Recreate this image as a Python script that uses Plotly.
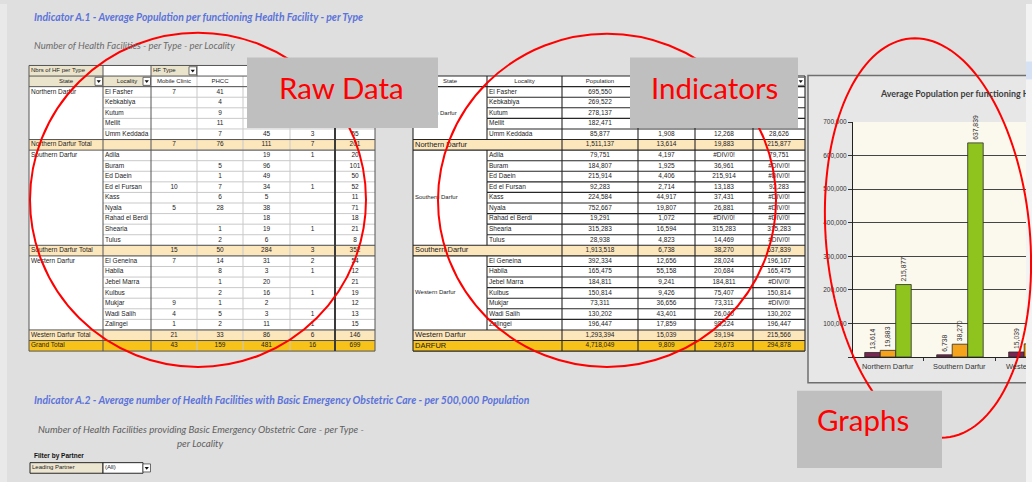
import numpy as np
import plotly.graph_objects as go

W, H = 1032, 482

# ======================= DATA =======================
states = ["Northern Darfur", "Southern Darfur", "Western Darfur"]

# ---- Raw data table: number of health facilities per type ----
raw_row0_labels = ["Nbrs of HF per Type", "HF Type"]
raw_col_headers = ["State", "Locality", "Mobile Clinic", "PHCC", "", "", ""]

north_localities = ["El Fasher", "Kebkabiya", "Kutum", "Mellit", "Umm Keddada"]
south_localities = ["Adila", "Buram", "Ed Daein", "Ed el Fursan", "Kass", "Nyala",
                    "Rahad el Berdi", "Shearia", "Tulus"]
west_localities = ["El Geneina", "Habila", "Jebel Marra", "Kulbus", "Mukjar",
                   "Wadi Salih", "Zalingei"]

north_counts = [[7, 41, None, None, None], [None, 4, None, None, None],
                [None, 9, None, None, None], [None, 11, None, None, None],
                [None, 7, 45, 3, 55]]
north_total_counts = [7, 76, 111, 7, 201]
south_counts = [[None, None, 19, 1, 20], [None, 5, 96, None, 101], [None, 1, 49, None, 50],
                [10, 7, 34, 1, 52], [None, 6, 5, None, 11], [5, 28, 38, None, 71],
                [None, None, 18, None, 18], [None, 1, 19, 1, 21], [None, 2, 6, None, 8]]
south_total_counts = [15, 50, 284, 3, 352]
west_counts = [[7, 14, 31, 2, 54], [None, 8, 3, 1, 12], [None, 1, 20, None, 21],
               [None, 2, 16, 1, 19], [9, 1, 2, None, 12], [4, 5, 3, 1, 13],
               [1, 2, 11, 1, 15]]
west_total_counts = [21, 33, 86, 6, 146]
grand_total_counts = [43, 159, 481, 16, 699]

# ---- Indicators table: average population per functioning HF ----
ind_col_headers = ["State", "Locality", "Population", "", "", ""]
north_population = ["695,550", "269,522", "278,137", "182,471", "85,877"]
north_ind = [["", "", ""], ["", "", ""], ["", "", ""], ["", "", ""],
             ["1,908", "12,268", "28,626"]]
north_total_ind = ["1,511,137", "13,614", "19,883", "215,877"]
south_population = ["79,751", "184,807", "215,914", "92,283", "224,584", "752,667",
                    "19,291", "315,283", "28,938"]
south_ind = [["4,197", "#DIV/0!", "79,751"], ["1,925", "36,961", "#DIV/0!"],
             ["4,406", "215,914", "#DIV/0!"], ["2,714", "13,183", "92,283"],
             ["44,917", "37,431", "#DIV/0!"], ["19,807", "26,881", "#DIV/0!"],
             ["1,072", "#DIV/0!", "#DIV/0!"], ["16,594", "315,283", "315,283"],
             ["4,823", "14,469", "#DIV/0!"]]
south_total_ind = ["1,913,518", "6,738", "38,270", "637,839"]
west_population = ["392,334", "165,475", "184,811", "150,814", "73,311", "130,202", "196,447"]
west_ind = [["12,656", "28,024", "196,167"], ["55,158", "20,684", "165,475"],
            ["9,241", "184,811", "#DIV/0!"], ["9,426", "75,407", "150,814"],
            ["36,656", "73,311", "#DIV/0!"], ["43,401", "26,040", "130,202"],
            ["17,859", "98,224", "196,447"]]
west_total_ind = ["1,293,394", "15,039", "39,194", "215,566"]
darfur_label = "DARFUR"
darfur_total_ind = ["4,718,049", "9,809", "29,673", "294,878"]

# ---- Chart ----
chart_title = "Average Population per functioning Health Facility - per Type"
chart_categories = ["Northern Darfur", "Southern Darfur", "Western Darfur"]
series_names = ["Population per HF (type 3)", "Population per PHCC", "Population per HF (type 4)"]
series_a = [13614, 6738, 15039]
series_b = [19883, 38270, 39194]
series_c = [215877, 637839, 215566]
chart_yticks = [0, 100000, 200000, 300000, 400000, 500000, 600000, 700000]

# ---- Page texts ----
title_a1 = "Indicator A.1 - Average Population per functioning Health Facility - per Type"
sub_a1 = "Number of Health Facilities - per Type - per Locality"
title_a2 = "Indicator A.2 - Average number of Health Facilities with Basic Emergency Obstetric Care - per 500,000 Population"
sub_a2_line1 = "Number of Health Facilities providing Basic Emergency Obstetric Care - per Type -"
sub_a2_line2 = "per Locality"
filter_title = "Filter by Partner"
filter_labels = ["Leading Partner", "(All)"]
callout_labels = ["Raw Data", "Indicators", "Graphs"]

# ======================= STYLE / GEOMETRY =======================
TFONT = "Liberation Sans"
PAGE = "#dfdfdf"
BEIGE_H = "#ebe4cc"
TOTAL_FILL = "#fce6bc"
GRAND_FILL = "#f7c21a"
LIGHT = "#c9c9c9"
DARK = "#555555"
BLACK = "#262626"
TXT = "#1c1c1c"
SCROLL = "#f3f3f3"

RH = 288.0 / 27
RAW_LEFT, RAW_TOP = 29, 62
RAW_COLW = [74, 48, 46, 46, 47, 45, 40]
IND_LEFT, IND_TOP = 413, 62 + RH
IND_COLW = [74, 75, 76, 57, 58, 52]
FIL_LEFT, FIL_TOP = 30, 462.5
FIL_COLW = [73, 40, 8]

fig = go.Figure()
shapes = []
annotations = []
axes_layout = {}
text_groups = {}


def make_table_axes(idx, left, top, colw, nrows):
    pad = 2.0
    wsum = float(sum(colw))
    axes_layout["xaxis%d" % idx] = dict(domain=[(left - pad) / W, (left + wsum + pad) / W],
                                        range=[-pad, wsum + pad], visible=False,
                                        fixedrange=True, anchor="y%d" % idx)
    axes_layout["yaxis%d" % idx] = dict(domain=[1 - (top + nrows * RH + pad) / H, 1 - (top - pad) / H],
                                        range=[nrows + pad / RH, -pad / RH], visible=False,
                                        fixedrange=True, anchor="x%d" % idx)


def srect(ax, x0, x1, y0, y1, fill, lc=None, lw=0):
    shapes.append(dict(type="rect", xref="x%d" % ax, yref="y%d" % ax, x0=x0, x1=x1, y0=y0, y1=y1,
                       fillcolor=fill, line=dict(color=lc or "rgba(0,0,0,0)", width=lw), layer="below"))


def sline(ax, x0, x1, y0, y1, color, width):
    shapes.append(dict(type="line", xref="x%d" % ax, yref="y%d" % ax, x0=x0, x1=x1, y0=y0, y1=y1,
                       line=dict(color=color, width=width), layer="below"))


def dropdown(ax, xr, r):
    srect(ax, xr - 8, xr - 0.5, r + 0.12, r + 0.88, "#ffffff", "#4a4a4a", 0.8)
    xm = xr - 4.25
    shapes.append(dict(type="path", xref="x%d" % ax, yref="y%d" % ax,
                       path="M %.2f,%.3f L %.2f,%.3f L %.2f,%.3f Z" % (xr - 6.4, r + 0.4, xr - 2.1, r + 0.4, xm, r + 0.66),
                       fillcolor="#111111", line=dict(width=0), layer="below"))


def put(ax, x, r, s, pos="middle center", size=6.5, color=TXT):
    if s is None or s == "":
        return
    g = text_groups.setdefault((ax, pos, size, color), ([], [], []))
    g[0].append(x)
    g[1].append(r + 0.5)
    g[2].append(str(s).replace(" ", "\u00a0"))


def prect(x0, x1, y0, y1, fill, lc=None, lw=0, layer="above"):
    shapes.append(dict(type="rect", xref="paper", yref="paper", x0=x0 / W, x1=x1 / W,
                       y0=1 - y0 / H, y1=1 - y1 / H, fillcolor=fill,
                       line=dict(color=lc or "rgba(0,0,0,0)", width=lw), layer=layer))


def ptext(x, y, s, size, color, family="Lato", xanchor="left"):
    annotations.append(dict(x=x / W, y=1 - y / H, xref="paper", yref="paper", text=s, showarrow=False,
                            xanchor=xanchor, yanchor="middle", font=dict(family=family, size=size, color=color)))


def patch(x0, x1, y0, y1, color):
    # opaque annotation box (drawn above annotation texts that run under the scrollbar)
    annotations.append(dict(x=x0 / W, y=1 - y0 / H, xref="paper", yref="paper", text=" ", showarrow=False,
                            xanchor="left", yanchor="top", width=x1 - x0, height=y1 - y0,
                            bgcolor=color, borderpad=0, borderwidth=0, font=dict(size=1)))


# ======================= RAW DATA TABLE (x2/y2) =======================
rx = np.concatenate([[0], np.cumsum(RAW_COLW)]).astype(float)
rc = (rx[:-1] + rx[1:]) / 2
raw_rows = []
for st, locs, cnts, tot in [(states[0], north_localities, north_counts, north_total_counts),
                            (states[1], south_localities, south_counts, south_total_counts),
                            (states[2], west_localities, west_counts, west_total_counts)]:
    for i, (loc, c) in enumerate(zip(locs, cnts)):
        raw_rows.append(("body", st if i == 0 else "", loc, c))
    raw_rows.append(("total", st + " Total", "", tot))
raw_rows.append(("grand", "Grand Total", "", grand_total_counts))
n_raw = 2 + len(raw_rows)
make_table_axes(2, RAW_LEFT, RAW_TOP, RAW_COLW, n_raw)

srect(2, 0, rx[-1], 0, n_raw, "#ffffff")
srect(2, rx[0], rx[1], 0, 1, BEIGE_H)
srect(2, rx[2], rx[3], 0, 1, BEIGE_H)
srect(2, rx[0], rx[2], 1, 2, BEIGE_H)
raw_tot_rows = []
for k, (kind, a, b, vals) in enumerate(raw_rows):
    r = k + 2
    if kind == "total":
        srect(2, 0, rx[-1], r, r + 1, TOTAL_FILL)
        raw_tot_rows.append(r)
    elif kind == "grand":
        srect(2, 0, rx[-1], r, r + 1, GRAND_FILL)
        raw_tot_rows.append(r)
for r in range(2, n_raw):
    sline(2, rx[1], rx[-1], r, r, LIGHT, 1)
for j in (3, 4, 5):
    sline(2, rx[j], rx[j], 1, n_raw, LIGHT, 1)
dark_rows = sorted(set([0, 1, 2, n_raw] + raw_tot_rows + [r + 1 for r in raw_tot_rows]))
for r in dark_rows:
    sline(2, 0, rx[-1], r, r, DARK, 1)
for j in (0, 1, 2, 7):
    sline(2, rx[j], rx[j], 0, n_raw, DARK, 1)
sline(2, rx[3], rx[3], 0, 1, DARK, 1)
sline(2, rx[6], rx[6], 1, n_raw, "#3a3a3a", 2)

put(2, rx[0] + 2, 0, raw_row0_labels[0], "middle right", 6)
put(2, rx[2] + 2, 0, raw_row0_labels[1], "middle right", 6)
for j, hname in enumerate(raw_col_headers):
    put(2, rc[j], 1, hname, "middle center", 6)
for k, (kind, a, b, vals) in enumerate(raw_rows):
    r = k + 2
    put(2, rx[0] + 2, r, a, "middle right")
    put(2, rx[1] + 2, r, b, "middle right")
    for j, v in enumerate(vals):
        put(2, rc[j + 2], r, "" if v is None else format(v, ","))
dropdown(2, rx[3], 0)
dropdown(2, rx[1], 1)
dropdown(2, rx[2], 1)

# ======================= INDICATORS TABLE (x3/y3) =======================
ix = np.concatenate([[0], np.cumsum(IND_COLW)]).astype(float)
ic = (ix[:-1] + ix[1:]) / 2
ind_rows = []
for st, locs, pops, inds, tot in [(states[0], north_localities, north_population, north_ind, north_total_ind),
                                  (states[1], south_localities, south_population, south_ind, south_total_ind),
                                  (states[2], west_localities, west_population, west_ind, west_total_ind)]:
    mid = len(locs) // 2
    for i, (loc, pop, ind) in enumerate(zip(locs, pops, inds)):
        ind_rows.append(("body", st if i == mid else "", loc, [pop] + ind))
    ind_rows.append(("total", st, "", tot))
ind_rows.append(("grand", darfur_label, "", darfur_total_ind))
n_ind = 1 + len(ind_rows)
make_table_axes(3, IND_LEFT, IND_TOP, IND_COLW, n_ind)

srect(3, 0, ix[-1], 0, n_ind, "#ffffff")
ind_tot_rows = []
for k, (kind, a, b, vals) in enumerate(ind_rows):
    r = k + 1
    if kind == "total":
        srect(3, 0, ix[-1], r, r + 1, TOTAL_FILL)
        ind_tot_rows.append(r)
    elif kind == "grand":
        srect(3, 0, ix[-1], r, r + 1, GRAND_FILL)
        ind_tot_rows.append(r)
for r in range(0, n_ind + 1):
    sline(3, ix[1], ix[-1], r, r, BLACK, 1.1)
for r in sorted(set([0, 1, n_ind] + ind_tot_rows + [r + 1 for r in ind_tot_rows])):
    sline(3, ix[0], ix[1], r, r, BLACK, 1.1)
for j in (0, 2, 3, 4, 5, 6):
    sline(3, ix[j], ix[j], 0, n_ind, BLACK, 1.1)
sline(3, ix[1], ix[1], 0, 1, BLACK, 1.1)
for k, (kind, a, b, vals) in enumerate(ind_rows):
    if kind == "body":
        sline(3, ix[1], ix[1], k + 1, k + 2, BLACK, 1.1)

for j, hname in enumerate(ind_col_headers):
    put(3, ic[j], 0, hname, "middle center", 6)
for k, (kind, a, b, vals) in enumerate(ind_rows):
    r = k + 1
    if kind == "body":
        put(3, ix[0] + 2, r, a, "middle right", 6)
        put(3, ix[1] + 2, r, b, "middle right")
    else:
        put(3, ix[0] + 2, r, a, "middle right", 7.5)
    for j, v in enumerate(vals):
        put(3, ic[j + 2], r, v)
dropdown(3, ix[6], 0)

# ======================= FILTER ROW (x4/y4) =======================
fx = np.concatenate([[0], np.cumsum(FIL_COLW)]).astype(float)
make_table_axes(4, FIL_LEFT, FIL_TOP, FIL_COLW, 1)
srect(4, fx[0], fx[1], 0, 1, "#ece5cf", BLACK, 1)
srect(4, fx[1], fx[2], 0, 1, "#ffffff", BLACK, 1)
put(4, fx[0] + 2, 0, filter_labels[0], "middle right", 6)
put(4, fx[1] + 2, 0, filter_labels[1], "middle right", 6)
dropdown(4, fx[3], 0)

for (ax, pos, size, color), (xs, ys, ss) in text_groups.items():
    fig.add_trace(go.Scatter(x=xs, y=ys, text=ss, mode="text", textposition=pos,
                             textfont=dict(family=TFONT, size=size, color=color),
                             xaxis="x%d" % ax, yaxis="y%d" % ax, hoverinfo="skip",
                             showlegend=False, cliponaxis=False))

# ======================= CHART (x/y) =======================
bar_colors = ["#7a2652", "#f5a21c", "#8fc31d"]
for name, vals, col in zip(series_names, [series_a, series_b, series_c], bar_colors):
    fig.add_trace(go.Bar(x=chart_categories, y=vals, name=name,
                         marker=dict(color=col, line=dict(color="#2a2a2a", width=0.8)),
                         texttemplate="%{y:,}", textposition="outside", textangle=-90,
                         constraintext="none",
                         textfont=dict(family=TFONT, size=6.8, color="#333333"),
                         cliponaxis=False, hoverinfo="skip", showlegend=False,
                         xaxis="x", yaxis="y"))

# category labels of the chart (annotations bound to the category axis)
for cat in chart_categories:
    annotations.append(dict(x=cat, y=1 - 366 / H, xref="x", yref="paper", text=cat, showarrow=False,
                            xanchor="center", yanchor="middle",
                            font=dict(family=TFONT, size=7.4, color="#333333")))

# page decorations (below)
prect(0, 7, 0, H, "#e9e9e9", layer="below")
prect(808, 1032, 72, 382, "#e7e7e7", "#6f6f6f", 1.5, layer="below")
shapes.append(dict(type="rect", xref="x domain", yref="y domain", x0=0, x1=1, y0=0, y1=1,
                   fillcolor="#fbf8ee", line=dict(width=0), layer="below"))

# scrollbar
prect(1026, 1032, 0, H, SCROLL)
prect(1026, 1032, 58, 76, "#d6e1f3")

# red ellipses
shapes.append(dict(type="circle", xref="paper", yref="paper", x0=30 / W, x1=366 / W,
                   y0=1 - 29 / H, y1=1 - 366 / H, line=dict(color="#ff0000", width=2), layer="above"))
shapes.append(dict(type="circle", xref="paper", yref="paper", x0=438 / W, x1=776 / W,
                   y0=1 - 30 / H, y1=1 - 366 / H, line=dict(color="#ff0000", width=2), layer="above"))
t = np.linspace(0, 2 * np.pi, 145)
cx, cy, erx, ery, th = 928.0, 236.0, 102.0, 202.0, np.deg2rad(-5)
u, v = erx * np.cos(t), ery * np.sin(t)
EX = np.minimum(cx + u * np.cos(th) - v * np.sin(th), W - 1)
EY = cy + u * np.sin(th) + v * np.cos(th)
epath = "M " + " L ".join("%.5f,%.5f" % (a / W, 1 - b / H) for a, b in zip(EX, EY)) + " Z"
shapes.append(dict(type="path", xref="paper", yref="paper", path=epath,
                   line=dict(color="#ff0000", width=2), layer="above"))

# grey callout boxes
prect(247, 438, 54, 125, "#bfbfbf")
prect(630, 798, 54, 125, "#bfbfbf")
prect(797, 942, 390, 468, "#bfbfbf")

# texts
ptext(32, 13, "<b><i>%s</i></b>" % title_a1, 10.4, "#5b73da")
ptext(32, 42, "<i>%s</i>" % sub_a1, 9.5, "#6b6b6b")
ptext(32, 399, "<b><i>%s</i></b>" % title_a2, 10.4, "#5b73da")
ptext(36, 429, "<i>%s</i>" % sub_a2_line1, 9.7, "#5e5e5e")
ptext(200, 443, "<i>%s</i>" % sub_a2_line2, 9.7, "#5e5e5e", xanchor="center")
ptext(32, 456, "<b>%s</b>" % filter_title, 6.5, "#111111", family=TFONT)
ptext(878, 90, "<b>%s</b>" % chart_title, 8.9, "#3d3d3d")
ptext(341, 84, callout_labels[0], 29.5, "#ff0000", xanchor="center")
ptext(714, 84, callout_labels[1], 29.5, "#ff0000", xanchor="center")
ptext(863, 419, callout_labels[2], 29.5, "#ff0000", xanchor="center")

# scrollbar strip over texts that run under it
patch(1026, 1032, 80, 100, SCROLL)
patch(1026, 1032, 358, 376, SCROLL)

fig.update_layout(
    width=W, height=H, autosize=False, margin=dict(l=0, r=0, t=0, b=0),
    paper_bgcolor=PAGE, plot_bgcolor="rgba(0,0,0,0)", showlegend=False,
    barmode="group", bargap=0.354, bargroupgap=0,
    font=dict(family=TFONT),
    xaxis=dict(domain=[853 / W, 1.0], type="category", range=[-0.486, 2.001], anchor="y",
               tickson="boundaries", ticks="outside", ticklen=3, tickcolor="#333333",
               showline=True, linecolor="#222222", linewidth=1, showgrid=False,
               showticklabels=False, fixedrange=True),
    yaxis=dict(domain=[1 - 356 / H, 1 - 119 / H], range=[0, 700000], anchor="x",
               tickmode="array", tickvals=chart_yticks,
               ticktext=["" if v == 0 else format(v, ",") for v in chart_yticks],
               ticks="outside", ticklen=4, tickcolor="#333333", showline=True,
               linecolor="#222222", linewidth=1, showgrid=True, gridcolor="#454545",
               gridwidth=1, zeroline=False,
               tickfont=dict(family=TFONT, size=6.5, color="#333333"), fixedrange=True),
    shapes=shapes, annotations=annotations,
    **axes_layout,
)

reset_page = (
    "document.documentElement.style.margin='0';document.documentElement.style.overflow='hidden';"
    "document.body.style.margin='0';document.body.style.padding='0';document.body.style.overflow='hidden';"
    "var gd=document.querySelector('.plotly-graph-div');"
    "if(gd){gd.style.overflow='hidden';"
    "if(gd.parentElement){gd.parentElement.style.overflow='hidden';}}"
)
fig.write_html("out.html", config={"displayModeBar": False}, post_script=reset_page)
